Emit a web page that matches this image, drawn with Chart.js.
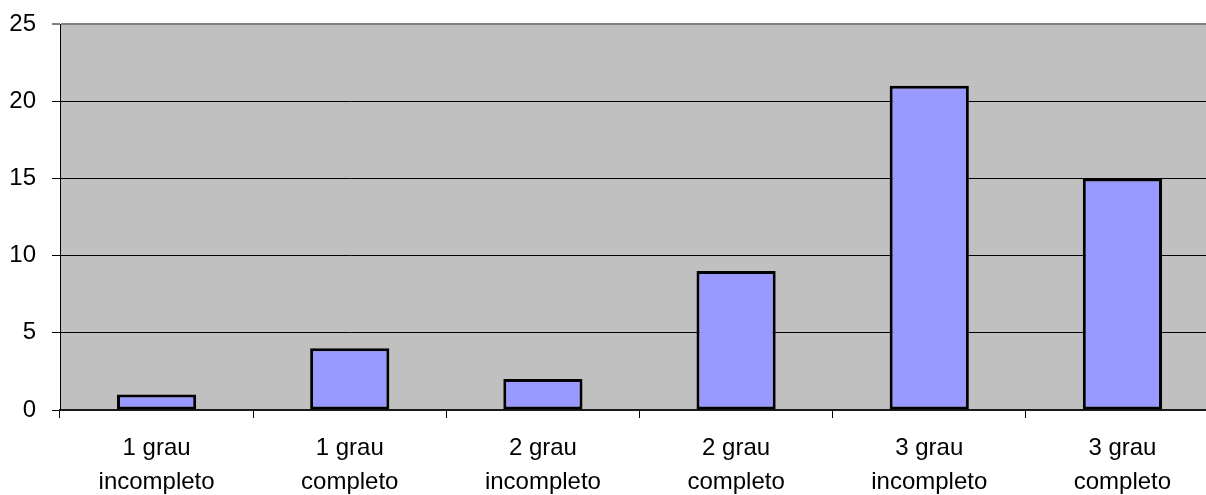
<!DOCTYPE html>
<html>
<head>
<meta charset="utf-8">
<script src="https://cdn.jsdelivr.net/npm/chart.js@4/dist/chart.umd.min.js"></script>
<style>
  html, body { margin: 0; padding: 0; background: #fff; overflow: hidden; }
  #wrap { width: 1219px; height: 495px; }
</style>
</head>
<body>
<div id="wrap"><canvas id="c" width="1219" height="495"></canvas></div>
<script>
// Escolaridade: número de pessoas por grau
const categories = [
  ['1 grau', 'incompleto'],
  ['1 grau', 'completo'],
  ['2 grau', 'incompleto'],
  ['2 grau', 'completo'],
  ['3 grau', 'incompleto'],
  ['3 grau', 'completo']
];
const counts = [1, 4, 2, 9, 21, 15];
const yTicks = [0, 5, 10, 15, 20, 25];

const FONT = '"Liberation Sans", Arial, Helvetica, sans-serif';

// Gray plot-area background behind gridlines and bars
const plotBackground = {
  id: 'plotBackground',
  beforeDraw(chart) {
    const { ctx, chartArea: a } = chart;
    ctx.save();
    ctx.fillStyle = '#C0C0C0';
    ctx.fillRect(a.left, a.top, a.right - a.left, a.bottom - a.top);
    ctx.restore();
  }
};

new Chart(document.getElementById('c'), {
  type: 'bar',
  data: {
    labels: categories,
    datasets: [{
      data: counts,
      backgroundColor: '#9999FF',
      borderColor: '#000000',
      borderWidth: 3,
      borderSkipped: false,
      categoryPercentage: 1,
      barPercentage: 0.41
    }]
  },
  options: {
    responsive: false,
    animation: false,
    devicePixelRatio: 1,
    layout: { padding: { top: 24, right: 0, left: 0, bottom: 0 } },
    plugins: {
      legend: { display: false },
      tooltip: { enabled: false }
    },
    scales: {
      x: {
        grid: {
          offset: true,
          drawOnChartArea: false,
          drawTicks: true,
          tickLength: 8,
          color: '#000000'
        },
        border: { display: true, color: '#1a1a1a', width: 2 },
        ticks: {
          color: '#000000',
          font: { family: FONT, size: 24, lineHeight: 34 / 24 },
          padding: 13,
          maxRotation: 0,
          autoSkip: false
        },
        afterFit(scale) {
          scale.height = 85;
          scale.paddingLeft = 0;
          scale.paddingRight = 0;
        }
      },
      y: {
        min: 0,
        max: 25,
        afterBuildTicks(scale) {
          scale.ticks = yTicks.map(v => ({ value: v }));
        },
        grid: {
          drawTicks: true,
          tickLength: 8,
          color: ctx => (ctx.tick && ctx.tick.value === 25) ? '#808080' : '#000000',
          lineWidth: ctx => (ctx.tick && ctx.tick.value === 25) ? 2 : 1
        },
        border: { display: true, color: '#000000', width: 1 },
        ticks: {
          color: '#000000',
          font: { family: FONT, size: 24 },
          padding: 16
        },
        afterFit(scale) {
          scale.width = 60;
          scale.paddingTop = 0;
          scale.paddingBottom = 0;
        }
      }
    }
  },
  plugins: [plotBackground]
});
</script>
</body>
</html>
